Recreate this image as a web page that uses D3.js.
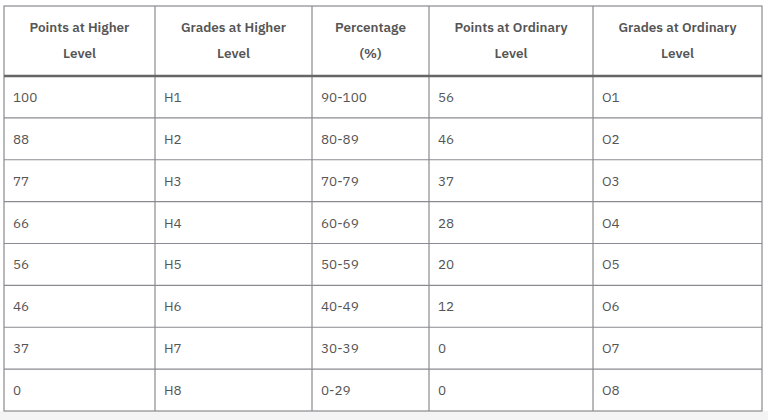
<!DOCTYPE html>
<html><head><meta charset="utf-8">
<script src="https://cdn.jsdelivr.net/npm/d3@7"></script>
<style>body{margin:0;background:#fff}</style></head>
<body><svg id="c" width="768" height="420"></svg>
<script>
const headers = [["Points at Higher","Level"],["Grades at Higher","Level"],["Percentage","(%)"],["Points at Ordinary","Level"],["Grades at Ordinary","Level"]];
const pointsHigher = ["100","88","77","66","56","46","37","0"];
const gradesHigher = ["H1","H2","H3","H4","H5","H6","H7","H8"];
const percentage = ["90-100","80-89","70-79","60-69","50-59","40-49","30-39","0-29"];
const pointsOrdinary = ["56","46","37","28","20","12","0","0"];
const gradesOrdinary = ["O1","O2","O3","O4","O5","O6","O7","O8"];
const columns = [pointsHigher, gradesHigher, percentage, pointsOrdinary, gradesOrdinary];

const svg = d3.select("#c");
const colEdges = [4,155,312,429,593,762];
const tableTop = 6, headBottom = 76, tableBottom = 411;
const y = d3.scaleLinear().domain([0,8]).range([headBottom,tableBottom]);
const font = "'IBM Plex Sans', Inter, 'Open Sans', sans-serif";
const line = "#8a8a90", txt = "#555";

svg.append("rect").attr("x",0).attr("y",411).attr("width",768).attr("height",9).attr("fill","#f4f4f4");
svg.append("rect").attr("x",colEdges[0]).attr("y",tableTop).attr("width",colEdges[5]-colEdges[0]).attr("height",tableBottom-tableTop)
  .attr("fill","#fff").attr("stroke",line).attr("stroke-width",1.2);
colEdges.slice(1,5).forEach(x=>svg.append("line").attr("x1",x).attr("x2",x).attr("y1",tableTop).attr("y2",tableBottom).attr("stroke",line).attr("stroke-width",1.2));
d3.range(1,8).forEach(i=>svg.append("line").attr("x1",colEdges[0]).attr("x2",colEdges[5]).attr("y1",y(i)).attr("y2",y(i)).attr("stroke",line).attr("stroke-width",1.2));
svg.append("line").attr("x1",colEdges[0]).attr("x2",colEdges[5]).attr("y1",headBottom).attr("y2",headBottom).attr("stroke","#666").attr("stroke-width",2.5);

headers.forEach((h,c)=>{
  const cx=(colEdges[c]+colEdges[c+1])/2;
  h.forEach((t,k)=>svg.append("text").attr("x",cx).attr("y",32+k*26).attr("text-anchor","middle")
    .attr("font-family",font).attr("font-weight",600).attr("font-size",13.5).attr("fill",txt).text(t));
});
columns.forEach((col,c)=>{
  col.forEach((v,r)=>svg.append("text").attr("x",colEdges[c]+9).attr("y",(y(r)+y(r+1))/2+5)
    .attr("font-family",font).attr("font-size",13.5).attr("fill",txt).text(v));
});
</script></body></html>
